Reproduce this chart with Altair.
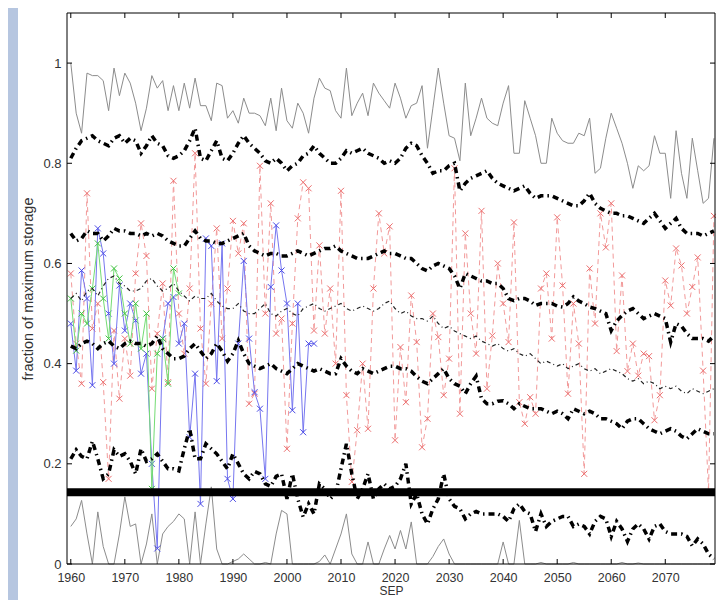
#%%
# load packages
import pandas as pd
import altair as alt

# data (fraction of maximum storage, September)
years = list(range(1960, 2080))

max_vals = [1.00, 0.90, 0.86, 0.98, 0.975, 0.975, 0.965, 0.905, 0.99, 0.935,
            0.98, 0.96, 0.92, 0.865, 0.91, 0.975, 0.95, 0.965, 0.905, 0.955,
            0.905, 0.96, 0.91, 0.97, 0.915, 0.915, 0.885, 0.96, 0.955, 0.89,
            0.905, 0.88, 0.93, 0.90, 0.90, 0.895, 0.875, 0.93, 0.865, 0.95,
            0.885, 0.87, 0.92, 0.90, 0.86, 0.93, 0.97, 0.95, 0.945, 0.905,
            0.89, 0.99, 0.895, 0.92, 0.94, 0.895, 0.96, 0.94, 0.925, 0.91,
            0.96, 0.93, 0.89, 0.915, 0.92, 0.955, 0.83, 0.91, 0.99, 0.92,
            0.855, 0.85, 0.805, 0.96, 0.855, 0.89, 0.93, 0.89, 0.88, 0.875,
            0.92, 0.955, 0.82, 0.82, 0.925, 0.89, 0.855, 0.80, 0.80, 0.89,
            0.86, 0.845, 0.84, 0.84, 0.86, 0.855, 0.89, 0.78, 0.79, 0.85,
            0.90, 0.87, 0.84, 0.80, 0.75, 0.795, 0.785, 0.795, 0.855, 0.82,
            0.82, 0.73, 0.865, 0.78, 0.73, 0.85, 0.785, 0.72, 0.73, 0.85]

min_vals = [0.075, 0.09, 0.127, 0.06, 0.0, 0.104, 0.035, 0.0, 0.0, 0.06,
            0.134, 0.075, 0.08, 0.0, 0.04, 0.10, 0.0, 0.06, 0.075, 0.085,
            0.10, 0.09, 0.0, 0.104, 0.0, 0.08, 0.154, 0.03, 0.0, 0.0,
            0.005, 0.01, 0.02, 0.01, 0.0, 0.0, 0.003, 0.0, 0.06, 0.107,
            0.10, 0.0, 0.0, 0.0, 0.0, 0.0, 0.005, 0.018, 0.0, 0.03,
            0.06, 0.10, 0.02, 0.0, 0.0, 0.044, 0.0, 0.0, 0.03, 0.057,
            0.03, 0.067, 0.03, 0.084, 0.0, 0.0, 0.0, 0.015, 0.035, 0.05,
            0.02, 0.0, 0.0, 0.0, 0.0, 0.0, 0.0, 0.0, 0.0, 0.0,
            0.044, 0.0, 0.0, 0.087, 0.0, 0.0, 0.0, 0.003, 0.0, 0.0,
            0.0, 0.0, 0.0, 0.003, 0.0, 0.0, 0.0, 0.0, 0.0, 0.0,
            0.0, 0.0, 0.003, 0.0, 0.0, 0.002, 0.0, 0.0, 0.0, 0.0,
            0.0, 0.0, 0.0, 0.0, 0.0, 0.0, 0.0, 0.0, 0.0, 0.0]

p90 = [0.81, 0.83, 0.845, 0.85, 0.855, 0.845, 0.84, 0.835, 0.85, 0.855,
       0.84, 0.85, 0.845, 0.82, 0.835, 0.855, 0.84, 0.835, 0.815, 0.81,
       0.815, 0.825, 0.845, 0.87, 0.81, 0.805, 0.825, 0.845, 0.81, 0.805,
       0.82, 0.84, 0.855, 0.84, 0.83, 0.82, 0.805, 0.80, 0.81, 0.80,
       0.785, 0.795, 0.80, 0.815, 0.82, 0.835, 0.82, 0.81, 0.80, 0.80,
       0.81, 0.825, 0.82, 0.825, 0.83, 0.82, 0.815, 0.81, 0.80, 0.805,
       0.80, 0.81, 0.83, 0.84, 0.835, 0.815, 0.80, 0.78, 0.785, 0.785,
       0.795, 0.80, 0.745, 0.76, 0.77, 0.775, 0.78, 0.785, 0.77, 0.76,
       0.755, 0.75, 0.745, 0.75, 0.755, 0.74, 0.73, 0.735, 0.735, 0.735,
       0.73, 0.725, 0.72, 0.715, 0.715, 0.725, 0.74, 0.72, 0.71, 0.705,
       0.70, 0.70, 0.695, 0.695, 0.69, 0.685, 0.68, 0.69, 0.70, 0.685,
       0.67, 0.68, 0.69, 0.67, 0.66, 0.66, 0.66, 0.655, 0.66, 0.665]

p75 = [0.66, 0.645, 0.65, 0.665, 0.66, 0.66, 0.645, 0.655, 0.67, 0.665,
       0.665, 0.66, 0.66, 0.655, 0.66, 0.655, 0.66, 0.655, 0.645, 0.64,
       0.635, 0.635, 0.65, 0.665, 0.65, 0.645, 0.645, 0.64, 0.64, 0.645,
       0.65, 0.655, 0.66, 0.635, 0.625, 0.62, 0.615, 0.62, 0.62, 0.615,
       0.615, 0.62, 0.625, 0.62, 0.615, 0.62, 0.625, 0.63, 0.63, 0.635,
       0.625, 0.62, 0.615, 0.61, 0.61, 0.61, 0.615, 0.62, 0.625, 0.62,
       0.62, 0.615, 0.61, 0.61, 0.60, 0.59, 0.585, 0.595, 0.60, 0.595,
       0.59, 0.575, 0.55, 0.58, 0.575, 0.57, 0.565, 0.565, 0.56, 0.56,
       0.55, 0.53, 0.526, 0.53, 0.53, 0.525, 0.516, 0.52, 0.52, 0.52,
       0.515, 0.513, 0.52, 0.533, 0.525, 0.52, 0.513, 0.51, 0.505, 0.50,
       0.466, 0.485, 0.496, 0.505, 0.51, 0.50, 0.49, 0.495, 0.50, 0.495,
       0.49, 0.443, 0.48, 0.475, 0.46, 0.45, 0.45, 0.45, 0.445, 0.455]

p50 = [0.53, 0.54, 0.525, 0.545, 0.55, 0.535, 0.555, 0.57, 0.575, 0.56,
       0.555, 0.545, 0.545, 0.55, 0.565, 0.57, 0.555, 0.545, 0.55, 0.56,
       0.545, 0.535, 0.525, 0.535, 0.53, 0.53, 0.54, 0.525, 0.515, 0.51,
       0.51, 0.52, 0.505, 0.50, 0.50, 0.51, 0.52, 0.50, 0.495, 0.505,
       0.51, 0.50, 0.495, 0.51, 0.515, 0.52, 0.51, 0.505, 0.51, 0.515,
       0.52, 0.51, 0.505, 0.51, 0.515, 0.51, 0.505, 0.51, 0.52, 0.525,
       0.51, 0.50, 0.505, 0.495, 0.49, 0.49, 0.485, 0.495, 0.48, 0.47,
       0.475, 0.465, 0.46, 0.455, 0.45, 0.455, 0.445, 0.44, 0.435, 0.44,
       0.43, 0.425, 0.43, 0.42, 0.415, 0.42, 0.41, 0.40, 0.405, 0.40,
       0.395, 0.40, 0.39, 0.395, 0.40, 0.39, 0.385, 0.39, 0.38, 0.385,
       0.39, 0.385, 0.38, 0.37, 0.365, 0.37, 0.36, 0.365, 0.36, 0.35,
       0.355, 0.35, 0.355, 0.345, 0.34, 0.35, 0.345, 0.34, 0.345, 0.35]

p25 = [0.435, 0.43, 0.44, 0.445, 0.44, 0.43, 0.44, 0.445, 0.435, 0.43,
       0.44, 0.445, 0.44, 0.44, 0.435, 0.44, 0.455, 0.43, 0.42, 0.41,
       0.41, 0.415, 0.43, 0.44, 0.425, 0.41, 0.42, 0.44, 0.425, 0.405,
       0.42, 0.446, 0.42, 0.40, 0.395, 0.39, 0.395, 0.40, 0.39, 0.385,
       0.38, 0.39, 0.40, 0.395, 0.39, 0.385, 0.39, 0.385, 0.38, 0.38,
       0.41, 0.395, 0.385, 0.38, 0.39, 0.385, 0.38, 0.385, 0.39, 0.395,
       0.395, 0.39, 0.39, 0.385, 0.374, 0.365, 0.36, 0.37, 0.38, 0.39,
       0.37, 0.36, 0.355, 0.34, 0.36, 0.375, 0.33, 0.32, 0.32, 0.325,
       0.326, 0.32, 0.31, 0.32, 0.315, 0.31, 0.31, 0.31, 0.305, 0.30,
       0.305, 0.30, 0.29, 0.31, 0.305, 0.30, 0.305, 0.30, 0.29, 0.29,
       0.285, 0.28, 0.27, 0.285, 0.29, 0.29, 0.28, 0.27, 0.265, 0.26,
       0.265, 0.27, 0.265, 0.255, 0.25, 0.26, 0.27, 0.265, 0.26, 0.26]

p10 = [0.21, 0.228, 0.215, 0.21, 0.245, 0.21, 0.17, 0.18, 0.228, 0.215,
       0.22, 0.205, 0.18, 0.23, 0.205, 0.21, 0.22, 0.205, 0.19, 0.19,
       0.186, 0.23, 0.27, 0.21, 0.21, 0.24, 0.23, 0.22, 0.205, 0.19,
       0.22, 0.20, 0.18, 0.17, 0.185, 0.18, 0.16, 0.155, 0.175, 0.18,
       0.13, 0.18, 0.13, 0.094, 0.12, 0.10, 0.16, 0.15, 0.13, 0.14,
       0.19, 0.24, 0.18, 0.13, 0.15, 0.18, 0.13, 0.15, 0.16, 0.15,
       0.155, 0.17, 0.20, 0.12, 0.14, 0.10, 0.08, 0.11, 0.13, 0.18,
       0.13, 0.115, 0.11, 0.09, 0.10, 0.105, 0.10, 0.10, 0.10, 0.10,
       0.095, 0.085, 0.11, 0.12, 0.105, 0.10, 0.065, 0.10, 0.075, 0.085,
       0.09, 0.095, 0.095, 0.075, 0.08, 0.075, 0.06, 0.085, 0.095, 0.09,
       0.055, 0.085, 0.07, 0.045, 0.07, 0.08, 0.07, 0.05, 0.075, 0.08,
       0.065, 0.06, 0.06, 0.06, 0.055, 0.036, 0.05, 0.04, 0.02, 0.01]

red_run = [0.58, 0.44, 0.36, 0.74, 0.47, 0.52, 0.363, 0.17, 0.466, 0.33,
           0.45, 0.376, 0.58, 0.68, 0.615, 0.35, 0.46, 0.56, 0.363, 0.765,
           0.50, 0.42, 0.55, 0.82, 0.47, 0.36, 0.52, 0.67, 0.45, 0.55,
           0.685, 0.62, 0.68, 0.32, 0.34, 0.795, 0.50, 0.72, 0.46, 0.49,
           0.23, 0.48, 0.69, 0.762, 0.75, 0.466, 0.636, 0.46, 0.55, 0.40,
           0.745, 0.337, 0.164, 0.267, 0.40, 0.27, 0.55, 0.70, 0.62, 0.674,
           0.247, 0.433, 0.323, 0.536, 0.443, 0.233, 0.29, 0.50, 0.453, 0.337,
           0.41, 0.79, 0.30, 0.66, 0.50, 0.42, 0.705, 0.35, 0.456, 0.60,
           0.52, 0.443, 0.682, 0.323, 0.28, 0.333, 0.30, 0.55, 0.58, 0.45,
           0.692, 0.556, 0.34, 0.52, 0.44, 0.18, 0.59, 0.48, 0.70, 0.632,
           0.72, 0.425, 0.576, 0.385, 0.44, 0.376, 0.42, 0.415, 0.287, 0.337,
           0.566, 0.516, 0.63, 0.596, 0.50, 0.553, 0.612, 0.386, 0.144, 0.695]

blue_years = list(range(1960, 2006))
blue_obs = [0.48, 0.386, 0.586, 0.53, 0.357, 0.67, 0.62, 0.50, 0.40, 0.556,
            0.466, 0.52, 0.486, 0.38, 0.42, 0.20, 0.031, 0.45, 0.52, 0.533,
            0.44, 0.48, 0.253, 0.38, 0.12, 0.65, 0.635, 0.365, 0.64, 0.17,
            0.13, 0.44, 0.605, 0.45, 0.343, 0.31, 0.17, 0.553, 0.676, 0.586,
            0.52, 0.307, 0.52, 0.263, 0.44, 0.44]

green_years = list(range(1960, 1981))
green_obs = [0.53, 0.426, 0.50, 0.48, 0.55, 0.64, 0.53, 0.45, 0.59, 0.57,
             0.50, 0.44, 0.52, 0.43, 0.50, 0.15, 0.42, 0.45, 0.36, 0.59, 0.54]

threshold = [0.143]

x_ticks = list(range(1960, 2080, 10))
y_ticks = [0, 0.2, 0.4, 0.6, 0.8, 1]

# %%
W, H = 648, 551
XSHAPE = "M-1,-1L1,1M-1,1L1,-1"
FONT = "Liberation Sans"

wide = pd.DataFrame({"year": years, "max": max_vals, "min": min_vals,
                     "p90": p90, "p75": p75, "p50": p50, "p25": p25,
                     "p10": p10, "red": red_run})
blue_df = pd.DataFrame({"year": blue_years, "v": blue_obs})
green_df = pd.DataFrame({"year": green_years, "v": green_obs})
thr_df = pd.DataFrame({"v": threshold})
xt_df = pd.DataFrame({"tick": x_ticks})
yt_df = pd.DataFrame({"tick": y_ticks})

xscale = alt.Scale(domain=[1959.3, 2079.2], nice=False, zero=False)
yscale = alt.Scale(domain=[0, 1.1], nice=False)

x_axis = alt.Axis(values=x_ticks, format="d", ticks=False, tickSize=0,
                  domain=False, grid=False, labelPadding=7, labelFlush=False,
                  labelFontSize=12.5,
                  title="SEP", titlePadding=2, titleFontSize=12, zindex=2)
y_axis = alt.Axis(values=y_ticks, ticks=False, tickSize=0, domain=False,
                  grid=False, labelPadding=6, labelFlush=False, labelFontSize=13,
                  labelExpr="datum.value == 0 ? '0' : datum.value == 1 ? '1' : format(datum.value, '.1f')",
                  title="fraction of maximum storage", titlePadding=7,
                  titleFontSize=14.5, zindex=2)


# every layer carries the same axis definition so they merge into one
def xe(field="year"):
    return alt.X(f"{field}:Q", scale=xscale, axis=x_axis)


def ye(field):
    return alt.Y(f"{field}:Q", scale=yscale, axis=y_axis)


# white figure area over the blue frame
paper = alt.Chart(alt.Data(values=[{}])).mark_rect(color="white").encode(
    x=alt.value(-49), x2=alt.value(W + 1), y=alt.value(-5), y2=alt.value(H + 45))

# axes box
box = alt.Chart(alt.Data(values=[{}])).mark_rect(
    fillOpacity=0, stroke="black", strokeWidth=1).encode(
    x=alt.value(0), x2=alt.value(W), y=alt.value(0), y2=alt.value(H))

base = alt.Chart(wide)

max_line = base.mark_line(color="#8c8c8c", strokeWidth=1).encode(
    x=xe(), y=ye("max"))
min_line = base.mark_line(color="#8c8c8c", strokeWidth=1).encode(
    x=xe(), y=ye("min"))

red_line = base.mark_line(color="#f29a9a", strokeWidth=1, strokeDash=[5, 4]).encode(
    x=xe(), y=ye("red"))
red_pts = base.mark_point(shape=XSHAPE, filled=False, size=36, color="#ec6e6e",
                          strokeWidth=1, opacity=1).encode(x=xe(), y=ye("red"))

blue_line = alt.Chart(blue_df).mark_line(color="#7676f0", strokeWidth=1).encode(
    x=xe(), y=ye("v"))
blue_pts = alt.Chart(blue_df).mark_point(shape=XSHAPE, filled=False, size=36,
                                         color="#4b4be6", strokeWidth=1, opacity=1).encode(
    x=xe(), y=ye("v"))

green_line = alt.Chart(green_df).mark_line(color="#74dc74", strokeWidth=1).encode(
    x=xe(), y=ye("v"))
green_pts = alt.Chart(green_df).mark_point(shape=XSHAPE, filled=False, size=36,
                                           color="#3fc23f", strokeWidth=1, opacity=1).encode(
    x=xe(), y=ye("v"))

median = base.mark_line(color="#222222", strokeWidth=1.2, strokeDash=[4, 3, 1, 3]).encode(
    x=xe(), y=ye("p50"))

thick = []
for col in ["p90", "p75", "p25", "p10"]:
    thick.append(base.mark_line(color="black", strokeWidth=3.5,
                                strokeDash=[6, 4, 1.5, 4]).encode(x=xe(), y=ye(col)))

thr = alt.Chart(thr_df).mark_rule(color="black", strokeWidth=8).encode(y=ye("v"))

# inward ticks on all four sides
tick_b = alt.Chart(xt_df).mark_rule(color="black").encode(
    x=xe("tick"), y=alt.value(H), y2=alt.value(H - 5))
tick_t = alt.Chart(xt_df).mark_rule(color="black").encode(
    x=xe("tick"), y=alt.value(0), y2=alt.value(5))
tick_l = alt.Chart(yt_df).mark_rule(color="black").encode(
    y=ye("tick"), x=alt.value(0), x2=alt.value(5))
tick_r = alt.Chart(yt_df).mark_rule(color="black").encode(
    y=ye("tick"), x=alt.value(W - 5), x2=alt.value(W))

chart = alt.layer(
    paper, max_line, min_line, red_line, red_pts, blue_line, blue_pts,
    green_line, green_pts, median, *thick, thr,
    tick_b, tick_t, tick_l, tick_r, box
).properties(
    width=W, height=H,
    padding={"left": 59, "top": 5, "right": 1, "bottom": 36},
    autosize=alt.AutoSizeParams(type="none"),
    background="#b6c6e0"
).configure_view(
    stroke=None
).configure_axis(
    labelFont=FONT, labelColor="#333333",
    titleFont=FONT, titleFontWeight="normal", titleColor="#333333"
)

chart.save("out.html", embed_options={"renderer": "svg", "actions": False})
